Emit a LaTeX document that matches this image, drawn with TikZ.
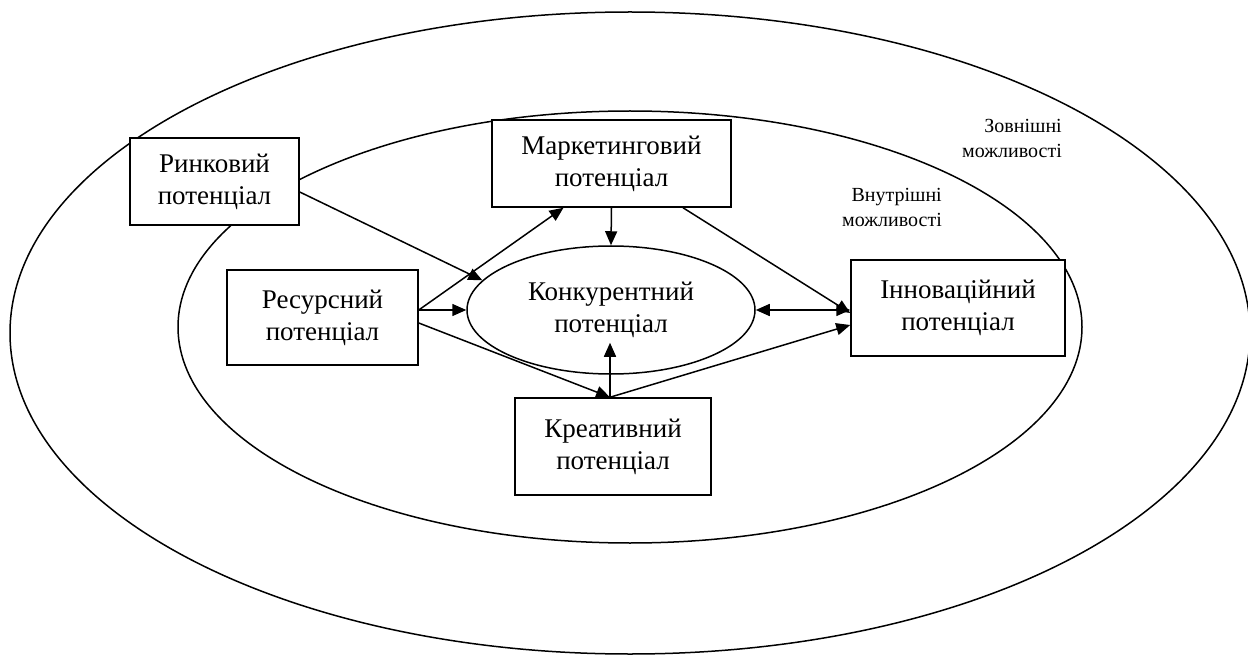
\documentclass[tikz,border=0pt]{standalone}
\usepackage{fontspec}
\setmainfont{Liberation Serif}
\usetikzlibrary{arrows.meta,shapes.geometric}

\begin{document}
\begin{tikzpicture}[x=1pt,y=-1pt,
  every node/.style={font=\fontsize{27}{32}\selectfont},
  box/.style={draw, line width=1.5pt, fill=white, align=center, inner sep=0pt},
  lab/.style={font=\fontsize{20}{25}\selectfont, align=right, inner sep=0pt},
  ring/.style={draw, line width=1.5pt},
  arr/.style={line width=1.5pt, -{Triangle[length=14pt,width=12pt]}},
  darr/.style={line width=1.5pt, {Triangle[length=14pt,width=12pt]}-{Triangle[length=14pt,width=12pt]}}]
\useasboundingbox (0,0) rectangle (1248,655);

% outer and inner rings of opportunities
\draw[ring] (630,333) ellipse [x radius=620, y radius=321];
\draw[ring] (630,327) ellipse [x radius=452, y radius=216];

\node[lab, anchor=north east] (zovn) at (1062,119) {Зовнішні\\можливості};
\node[lab, anchor=north east] (vnut) at (942,188) {Внутрішні\\можливості};

% potential blocks
\node[box, minimum width=169pt, minimum height=87pt] (rynk) at (214.5,181.5) {Ринковий\\потенціал};
\node[box, minimum width=239pt, minimum height=87pt] (mark) at (611.5,163.5) {Маркетинговий\\потенціал};
\node[box, minimum width=191pt, minimum height=95pt] (res) at (322.5,317.5) {Ресурсний\\потенціал};
\node[box, minimum width=214pt, minimum height=96pt] (innov) at (958,308) {Інноваційний\\потенціал};
\node[box, minimum width=196pt, minimum height=97pt] (kreat) at (613,446.5) {Креативний\\потенціал};
\node[box, ellipse, minimum width=288pt, minimum height=128pt] (konk) at (611,310) {Конкурентний\\потенціал};

% links between the potentials
\draw[arr] ([yshift=-10.5pt]rynk.east) -- (konk.167);
\draw[arr] ([yshift=7.5pt]res.east) -- ([xshift=-48pt]mark.south);
\draw[arr] ([yshift=7.5pt]res.east) -- (konk.west);
\draw[arr] ([yshift=-5.5pt]res.east) -- ([xshift=-3pt]kreat.north);
\draw[arr] ([xshift=-3pt]kreat.north) -- ([xshift=-1pt,yshift=32pt]konk.south);
\draw[arr] ([xshift=-3pt]kreat.north) -- ([yshift=-17pt]innov.west);
\draw[arr] (mark.south) -- (konk.north);
\draw[arr] ([xshift=71.5pt]mark.south) -- ([yshift=-5pt]innov.west);
\draw[darr] (konk.east) -- (konk.east -| innov.west);
\end{tikzpicture}
\end{document}
